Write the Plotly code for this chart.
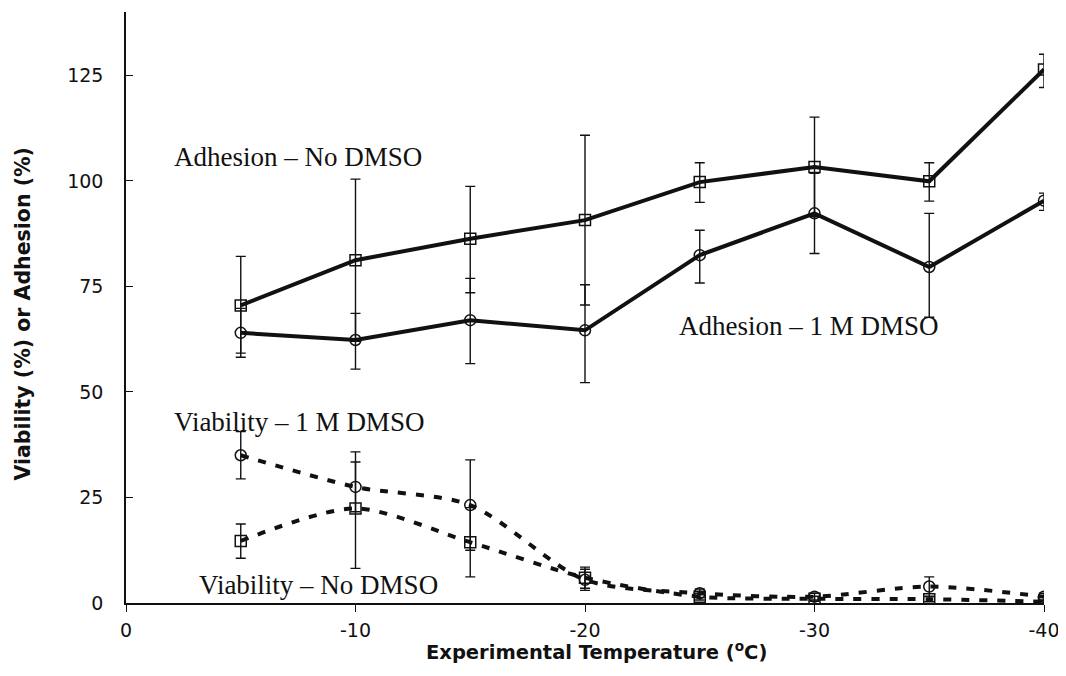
import plotly.graph_objects as go

# ---- data ----
temperature = [-5, -10, -15, -20, -25, -30, -35, -40]

adhesion_no_dmso = [70.5, 81.2, 86.3, 90.7, 99.7, 103.3, 99.9, 126.4]
adhesion_no_dmso_err_up = [11.6, 19.2, 12.4, 20.1, 4.6, 11.8, 4.4, 3.6]
adhesion_no_dmso_err_dn = [11.3, 19.2, 12.8, 20.1, 4.8, 11.8, 4.7, 4.3]

adhesion_dmso = [64.0, 62.3, 67.0, 64.6, 82.4, 92.3, 79.6, 95.3]
adhesion_dmso_err_up = [5.8, 6.3, 9.9, 10.8, 5.9, 9.5, 12.7, 1.8]
adhesion_dmso_err_dn = [5.8, 6.9, 10.3, 12.4, 6.6, 9.5, 11.9, 2.3]

viability_dmso = [35.0, 27.5, 23.2, 5.5, 2.3, 1.5, 3.9, 1.5]
viability_dmso_err_up = [5.6, 5.9, 10.7, 2.5, 1.0, 0.8, 2.3, 0.8]
viability_dmso_err_dn = [5.6, 5.9, 10.7, 2.5, 1.0, 0.8, 2.3, 0.8]

viability_no_dmso = [14.7, 22.4, 14.4, 6.0, 1.5, 1.0, 0.9, 0.3]
viability_no_dmso_err_up = [4.0, 13.4, 8.2, 2.5, 0.8, 0.6, 0.6, 0.3]
viability_no_dmso_err_dn = [4.1, 14.2, 8.2, 2.5, 0.8, 0.6, 0.6, 0.3]

x_ticks = [0, -10, -20, -30, -40]
y_ticks = [0, 25, 50, 75, 100, 125]

labels = {
    "adh_no": "Adhesion \u2013 No DMSO",
    "adh_dmso": "Adhesion \u2013 1 M DMSO",
    "via_dmso": "Viability \u2013 1 M DMSO",
    "via_no": "Viability \u2013 No DMSO",
}

BLACK = "#111111"


def err(up, dn):
    return dict(type="data", symmetric=False, array=up, arrayminus=dn,
                color=BLACK, thickness=1.4, width=5)


fig = go.Figure()

fig.add_trace(go.Scatter(
    x=temperature, y=adhesion_no_dmso, mode="lines+markers",
    line=dict(color=BLACK, width=4),
    marker=dict(symbol="square-open", size=11, color=BLACK, line=dict(width=1.5, color=BLACK)),
    error_y=err(adhesion_no_dmso_err_up, adhesion_no_dmso_err_dn),
    showlegend=False))

fig.add_trace(go.Scatter(
    x=temperature, y=adhesion_dmso, mode="lines+markers",
    line=dict(color=BLACK, width=4),
    marker=dict(symbol="circle-open", size=11, color=BLACK, line=dict(width=1.5, color=BLACK)),
    error_y=err(adhesion_dmso_err_up, adhesion_dmso_err_dn),
    showlegend=False))

fig.add_trace(go.Scatter(
    x=temperature, y=viability_dmso, mode="lines+markers",
    line=dict(color=BLACK, width=4, dash="8px,10px", shape="spline", smoothing=0.8),
    marker=dict(symbol="circle-open", size=11, color=BLACK, line=dict(width=1.5, color=BLACK)),
    error_y=err(viability_dmso_err_up, viability_dmso_err_dn),
    showlegend=False))

fig.add_trace(go.Scatter(
    x=temperature, y=viability_no_dmso, mode="lines+markers",
    line=dict(color=BLACK, width=4, dash="8px,10px", shape="spline", smoothing=0.8),
    marker=dict(symbol="square-open", size=11, color=BLACK, line=dict(width=1.5, color=BLACK)),
    error_y=err(viability_no_dmso_err_up, viability_no_dmso_err_dn),
    showlegend=False))

serif = dict(family="Liberation Serif, Times New Roman, serif", size=27, color=BLACK)
ann = [
    dict(text=labels["adh_no"], x=0.0501, y=0.7547),
    dict(text=labels["via_dmso"], x=0.0501, y=0.3071),
    dict(text=labels["via_no"], x=0.0773, y=0.0305),
    dict(text=labels["adh_dmso"], x=0.6002, y=0.4687),
]
for a in ann:
    fig.add_annotation(text=a["text"], x=a["x"], y=a["y"], xref="paper", yref="paper",
                       xanchor="left", yanchor="middle", showarrow=False, font=serif)

sans_bold = dict(family="DejaVu Sans, Arial, sans-serif", size=19.5, color=BLACK, weight="bold")
fig.add_annotation(text="Experimental Temperature (<sup>o</sup>C)", x=0.5125, y=-0.081,
                   xref="paper", yref="paper", xanchor="center", yanchor="middle",
                   showarrow=False, font=sans_bold)
fig.add_annotation(text="Viability (%) or Adhesion (%)", x=-0.112, y=0.49,
                   xref="paper", yref="paper", xanchor="center", yanchor="middle",
                   textangle=-90, showarrow=False,
                   font=dict(family="DejaVu Sans, Arial, sans-serif", size=20.5, color=BLACK, weight="bold"))

tick_font = dict(family="DejaVu Sans, Arial, sans-serif", size=19, color=BLACK)
# the page body adds an 8px margin; size the figure so it fits the window exactly
fig.update_layout(
    width=1058, height=660,
    margin=dict(l=118, r=22, t=4, b=65),
    paper_bgcolor="white", plot_bgcolor="white",
    xaxis=dict(range=[0, -40], tickvals=x_ticks, ticktext=[str(v) for v in x_ticks],
               showgrid=False, zeroline=False, showline=True, linecolor=BLACK, linewidth=1.5,
               ticks="outside", ticklen=7, tickwidth=1.2, tickcolor=BLACK,
               tickfont=tick_font, ticklabelstandoff=2, automargin=False,
               ticklabeloverflow="allow"),
    yaxis=dict(range=[0, 140], tickvals=y_ticks, ticktext=[str(v) for v in y_ticks],
               showgrid=False, zeroline=False, showline=True, linecolor=BLACK, linewidth=1.5,
               ticks="inside", ticklen=7, tickwidth=1.2, tickcolor=BLACK,
               tickfont=tick_font, ticklabelstandoff=17, automargin=False),
)

fig.write_html("out.html")
